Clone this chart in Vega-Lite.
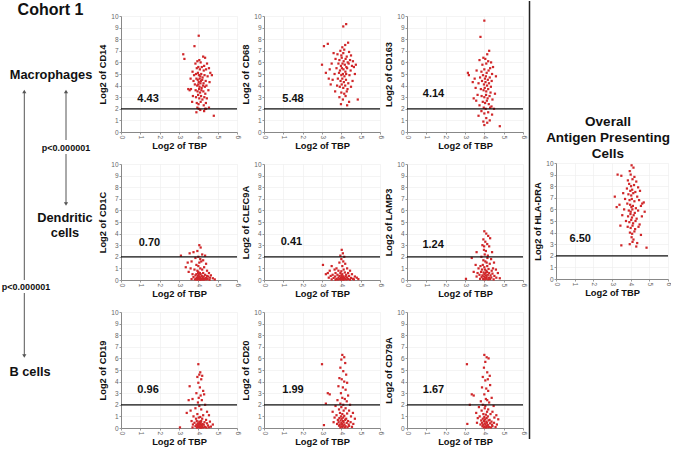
{
"$schema":"https://vega.github.io/schema/vega-lite/v6.json",
"background":"white",
"padding":{"left":0,"top":0,"right":0,"bottom":0},
"autosize":{"type":"pad"},
"config":{
 "view":{"stroke":null},
 "font":"Liberation Sans",
 "axis":{"grid":true,"gridColor":"#ececec","gridWidth":0.6,"domainColor":"#888","domainWidth":1,"tickColor":"#999","tickSize":2,"labelFontSize":6.5,"labelColor":"#666","labelPadding":1,"labelFlush":false,"labelOverlap":false,"titleFontSize":9.3,"titleFontWeight":"bold","titleColor":"#111","titlePadding":3},
 "axisX":{"labelAngle":90}
},
"datasets":{
"stats":[{"g":"CD14","r":4.43},{"g":"CD68","r":5.48},{"g":"CD163","r":4.14},{"g":"CD1C","r":0.70},{"g":"CLEC9A","r":0.41},{"g":"LAMP3","r":1.24},{"g":"HLA-DRA","r":6.50},{"g":"CD19","r":0.96},{"g":"CD20","r":1.99},{"g":"CD79A","r":1.67}],
"pts":[
{"g":"CD14","x":4.02,"y":8.3},{"g":"CD14","x":3.80,"y":7.4},{"g":"CD14","x":3.22,"y":6.7},{"g":"CD14","x":3.28,"y":6.3},{"g":"CD14","x":3.95,"y":6.1},{"g":"CD14","x":4.05,"y":6.2},{"g":"CD14","x":4.12,"y":6.0},{"g":"CD14","x":4.25,"y":6.5},{"g":"CD14","x":4.35,"y":6.4},{"g":"CD14","x":4.30,"y":5.7},{"g":"CD14","x":4.45,"y":5.9},{"g":"CD14","x":3.85,"y":5.9},{"g":"CD14","x":3.92,"y":5.5},{"g":"CD14","x":4.00,"y":5.6},{"g":"CD14","x":4.08,"y":5.4},{"g":"CD14","x":4.18,"y":5.6},{"g":"CD14","x":4.28,"y":5.3},{"g":"CD14","x":4.40,"y":5.4},{"g":"CD14","x":4.55,"y":5.5},{"g":"CD14","x":4.62,"y":5.1},{"g":"CD14","x":3.70,"y":5.2},{"g":"CD14","x":3.78,"y":4.9},{"g":"CD14","x":3.88,"y":5.0},{"g":"CD14","x":3.98,"y":5.1},{"g":"CD14","x":4.03,"y":4.9},{"g":"CD14","x":4.10,"y":4.8},{"g":"CD14","x":4.15,"y":5.0},{"g":"CD14","x":4.22,"y":4.7},{"g":"CD14","x":4.32,"y":4.9},{"g":"CD14","x":4.48,"y":4.8},{"g":"CD14","x":3.60,"y":4.6},{"g":"CD14","x":3.75,"y":4.4},{"g":"CD14","x":3.90,"y":4.6},{"g":"CD14","x":3.97,"y":4.5},{"g":"CD14","x":4.02,"y":4.3},{"g":"CD14","x":4.07,"y":4.6},{"g":"CD14","x":4.13,"y":4.4},{"g":"CD14","x":4.20,"y":4.5},{"g":"CD14","x":4.27,"y":4.2},{"g":"CD14","x":4.38,"y":4.4},{"g":"CD14","x":4.58,"y":4.3},{"g":"CD14","x":3.82,"y":4.1},{"g":"CD14","x":3.94,"y":4.0},{"g":"CD14","x":4.00,"y":4.1},{"g":"CD14","x":4.06,"y":3.9},{"g":"CD14","x":4.11,"y":4.2},{"g":"CD14","x":4.17,"y":3.8},{"g":"CD14","x":4.24,"y":4.0},{"g":"CD14","x":4.34,"y":3.9},{"g":"CD14","x":4.42,"y":4.0},{"g":"CD14","x":3.48,"y":3.7},{"g":"CD14","x":3.55,"y":3.6},{"g":"CD14","x":3.86,"y":3.6},{"g":"CD14","x":3.96,"y":3.5},{"g":"CD14","x":4.04,"y":3.7},{"g":"CD14","x":4.09,"y":3.4},{"g":"CD14","x":4.16,"y":3.6},{"g":"CD14","x":4.26,"y":3.5},{"g":"CD14","x":4.36,"y":3.3},{"g":"CD14","x":4.52,"y":3.6},{"g":"CD14","x":3.72,"y":3.1},{"g":"CD14","x":3.88,"y":3.0},{"g":"CD14","x":3.99,"y":3.2},{"g":"CD14","x":4.05,"y":2.9},{"g":"CD14","x":4.14,"y":3.1},{"g":"CD14","x":4.21,"y":2.8},{"g":"CD14","x":4.31,"y":3.0},{"g":"CD14","x":4.44,"y":2.9},{"g":"CD14","x":3.68,"y":2.6},{"g":"CD14","x":3.92,"y":2.5},{"g":"CD14","x":4.01,"y":2.4},{"g":"CD14","x":4.12,"y":2.6},{"g":"CD14","x":4.28,"y":2.3},{"g":"CD14","x":4.39,"y":2.5},{"g":"CD14","x":3.95,"y":2.1},{"g":"CD14","x":4.02,"y":2.0},{"g":"CD14","x":4.35,"y":2.0},{"g":"CD14","x":4.40,"y":2.0},{"g":"CD14","x":4.55,"y":2.1},{"g":"CD14","x":3.90,"y":1.7},{"g":"CD14","x":4.30,"y":1.8},{"g":"CD14","x":4.80,"y":1.4},{"g":"CD14","x":4.10,"y":1.9},{"g":"CD14","x":3.62,"y":3.7},{"g":"CD14","x":4.70,"y":4.9},
{"g":"CD68","x":4.25,"y":9.3},{"g":"CD68","x":4.10,"y":9.1},{"g":"CD68","x":3.30,"y":7.6},{"g":"CD68","x":3.10,"y":7.4},{"g":"CD68","x":4.05,"y":7.3},{"g":"CD68","x":4.20,"y":7.5},{"g":"CD68","x":4.35,"y":7.7},{"g":"CD68","x":3.95,"y":7.0},{"g":"CD68","x":4.15,"y":7.1},{"g":"CD68","x":4.40,"y":6.9},{"g":"CD68","x":3.60,"y":6.8},{"g":"CD68","x":3.80,"y":6.7},{"g":"CD68","x":4.00,"y":6.6},{"g":"CD68","x":4.10,"y":6.8},{"g":"CD68","x":4.28,"y":6.5},{"g":"CD68","x":4.50,"y":6.6},{"g":"CD68","x":3.70,"y":6.3},{"g":"CD68","x":3.90,"y":6.2},{"g":"CD68","x":4.02,"y":6.4},{"g":"CD68","x":4.12,"y":6.1},{"g":"CD68","x":4.22,"y":6.3},{"g":"CD68","x":4.33,"y":6.0},{"g":"CD68","x":4.45,"y":6.2},{"g":"CD68","x":4.60,"y":6.1},{"g":"CD68","x":3.00,"y":5.8},{"g":"CD68","x":3.50,"y":5.9},{"g":"CD68","x":3.85,"y":5.9},{"g":"CD68","x":3.98,"y":5.7},{"g":"CD68","x":4.06,"y":5.9},{"g":"CD68","x":4.18,"y":5.8},{"g":"CD68","x":4.26,"y":5.6},{"g":"CD68","x":4.38,"y":5.9},{"g":"CD68","x":4.55,"y":5.7},{"g":"CD68","x":4.75,"y":5.8},{"g":"CD68","x":3.40,"y":5.4},{"g":"CD68","x":3.75,"y":5.5},{"g":"CD68","x":3.93,"y":5.3},{"g":"CD68","x":4.03,"y":5.5},{"g":"CD68","x":4.11,"y":5.4},{"g":"CD68","x":4.21,"y":5.2},{"g":"CD68","x":4.30,"y":5.5},{"g":"CD68","x":4.48,"y":5.3},{"g":"CD68","x":4.65,"y":5.6},{"g":"CD68","x":3.20,"y":5.1},{"g":"CD68","x":3.65,"y":5.0},{"g":"CD68","x":3.88,"y":5.1},{"g":"CD68","x":4.00,"y":4.9},{"g":"CD68","x":4.08,"y":5.0},{"g":"CD68","x":4.16,"y":4.8},{"g":"CD68","x":4.25,"y":5.0},{"g":"CD68","x":4.42,"y":4.9},{"g":"CD68","x":3.55,"y":4.5},{"g":"CD68","x":3.82,"y":4.6},{"g":"CD68","x":3.96,"y":4.4},{"g":"CD68","x":4.05,"y":4.6},{"g":"CD68","x":4.13,"y":4.3},{"g":"CD68","x":4.24,"y":4.5},{"g":"CD68","x":4.36,"y":4.2},{"g":"CD68","x":4.58,"y":4.4},{"g":"CD68","x":3.45,"y":4.1},{"g":"CD68","x":3.78,"y":4.0},{"g":"CD68","x":3.92,"y":3.9},{"g":"CD68","x":4.02,"y":4.1},{"g":"CD68","x":4.10,"y":3.8},{"g":"CD68","x":4.20,"y":4.0},{"g":"CD68","x":4.32,"y":3.7},{"g":"CD68","x":4.50,"y":3.9},{"g":"CD68","x":3.68,"y":3.5},{"g":"CD68","x":4.00,"y":3.4},{"g":"CD68","x":4.15,"y":3.3},{"g":"CD68","x":4.28,"y":3.5},{"g":"CD68","x":3.90,"y":3.0},{"g":"CD68","x":4.08,"y":2.8},{"g":"CD68","x":4.22,"y":3.1},{"g":"CD68","x":4.40,"y":2.6},{"g":"CD68","x":3.98,"y":2.4},{"g":"CD68","x":4.30,"y":2.3},{"g":"CD68","x":4.85,"y":2.8},{"g":"CD68","x":3.35,"y":4.6},{"g":"CD68","x":4.70,"y":5.0},
{"g":"CD163","x":4.00,"y":9.6},{"g":"CD163","x":3.80,"y":8.2},{"g":"CD163","x":4.25,"y":7.0},{"g":"CD163","x":4.15,"y":6.7},{"g":"CD163","x":3.95,"y":6.4},{"g":"CD163","x":4.05,"y":6.3},{"g":"CD163","x":3.75,"y":6.2},{"g":"CD163","x":4.20,"y":6.1},{"g":"CD163","x":4.35,"y":6.0},{"g":"CD163","x":3.90,"y":5.8},{"g":"CD163","x":4.10,"y":5.9},{"g":"CD163","x":4.30,"y":5.5},{"g":"CD163","x":4.45,"y":5.6},{"g":"CD163","x":3.15,"y":5.1},{"g":"CD163","x":3.20,"y":4.9},{"g":"CD163","x":3.60,"y":5.3},{"g":"CD163","x":3.85,"y":5.2},{"g":"CD163","x":4.00,"y":5.4},{"g":"CD163","x":4.12,"y":5.1},{"g":"CD163","x":4.22,"y":5.3},{"g":"CD163","x":4.40,"y":5.0},{"g":"CD163","x":4.60,"y":4.8},{"g":"CD163","x":3.50,"y":4.6},{"g":"CD163","x":3.78,"y":4.7},{"g":"CD163","x":3.93,"y":4.9},{"g":"CD163","x":4.03,"y":4.6},{"g":"CD163","x":4.08,"y":4.8},{"g":"CD163","x":4.18,"y":4.5},{"g":"CD163","x":4.28,"y":4.7},{"g":"CD163","x":4.38,"y":4.4},{"g":"CD163","x":3.40,"y":4.3},{"g":"CD163","x":3.70,"y":4.2},{"g":"CD163","x":3.88,"y":4.4},{"g":"CD163","x":3.98,"y":4.1},{"g":"CD163","x":4.06,"y":4.3},{"g":"CD163","x":4.14,"y":4.0},{"g":"CD163","x":4.24,"y":4.2},{"g":"CD163","x":4.34,"y":3.9},{"g":"CD163","x":3.55,"y":3.8},{"g":"CD163","x":3.82,"y":3.7},{"g":"CD163","x":3.96,"y":3.6},{"g":"CD163","x":4.02,"y":3.8},{"g":"CD163","x":4.10,"y":3.5},{"g":"CD163","x":4.20,"y":3.7},{"g":"CD163","x":4.32,"y":3.4},{"g":"CD163","x":3.65,"y":3.2},{"g":"CD163","x":3.86,"y":3.1},{"g":"CD163","x":4.00,"y":3.0},{"g":"CD163","x":4.09,"y":3.2},{"g":"CD163","x":4.17,"y":2.9},{"g":"CD163","x":4.27,"y":3.1},{"g":"CD163","x":4.42,"y":2.8},{"g":"CD163","x":3.58,"y":2.7},{"g":"CD163","x":3.92,"y":2.6},{"g":"CD163","x":4.04,"y":2.5},{"g":"CD163","x":4.13,"y":2.7},{"g":"CD163","x":4.23,"y":2.4},{"g":"CD163","x":4.37,"y":2.2},{"g":"CD163","x":3.75,"y":2.3},{"g":"CD163","x":3.97,"y":2.1},{"g":"CD163","x":4.07,"y":2.0},{"g":"CD163","x":4.30,"y":2.1},{"g":"CD163","x":4.50,"y":2.0},{"g":"CD163","x":3.85,"y":1.8},{"g":"CD163","x":4.00,"y":1.6},{"g":"CD163","x":4.20,"y":1.7},{"g":"CD163","x":4.40,"y":1.5},{"g":"CD163","x":3.70,"y":1.4},{"g":"CD163","x":4.10,"y":1.2},{"g":"CD163","x":4.28,"y":1.0},{"g":"CD163","x":3.95,"y":0.9},{"g":"CD163","x":4.00,"y":0.6},{"g":"CD163","x":4.80,"y":0.5},{"g":"CD163","x":4.15,"y":0.8},{"g":"CD163","x":3.45,"y":2.9},{"g":"CD163","x":4.55,"y":3.3},
{"g":"CD1C","x":4.05,"y":3.0},{"g":"CD1C","x":4.12,"y":2.8},{"g":"CD1C","x":3.95,"y":2.5},{"g":"CD1C","x":3.55,"y":2.3},{"g":"CD1C","x":3.75,"y":2.4},{"g":"CD1C","x":3.10,"y":2.1},{"g":"CD1C","x":4.20,"y":2.2},{"g":"CD1C","x":4.00,"y":2.0},{"g":"CD1C","x":4.35,"y":2.1},{"g":"CD1C","x":3.85,"y":1.9},{"g":"CD1C","x":4.10,"y":1.8},{"g":"CD1C","x":4.25,"y":1.7},{"g":"CD1C","x":3.65,"y":1.6},{"g":"CD1C","x":3.45,"y":1.5},{"g":"CD1C","x":4.05,"y":1.5},{"g":"CD1C","x":4.15,"y":1.6},{"g":"CD1C","x":4.40,"y":1.4},{"g":"CD1C","x":3.90,"y":1.3},{"g":"CD1C","x":4.00,"y":1.2},{"g":"CD1C","x":3.35,"y":1.1},{"g":"CD1C","x":3.60,"y":1.0},{"g":"CD1C","x":4.30,"y":1.1},{"g":"CD1C","x":4.10,"y":1.0},{"g":"CD1C","x":3.80,"y":0.9},{"g":"CD1C","x":3.95,"y":0.8},{"g":"CD1C","x":4.20,"y":0.9},{"g":"CD1C","x":4.45,"y":0.8},{"g":"CD1C","x":3.50,"y":0.7},{"g":"CD1C","x":4.00,"y":0.7},{"g":"CD1C","x":4.08,"y":0.6},{"g":"CD1C","x":4.25,"y":0.6},{"g":"CD1C","x":4.55,"y":0.6},{"g":"CD1C","x":3.70,"y":0.5},{"g":"CD1C","x":3.90,"y":0.5},{"g":"CD1C","x":4.02,"y":0.45},{"g":"CD1C","x":4.12,"y":0.5},{"g":"CD1C","x":4.35,"y":0.45},{"g":"CD1C","x":4.65,"y":0.4},{"g":"CD1C","x":3.85,"y":0.4},{"g":"CD1C","x":3.98,"y":0.35},{"g":"CD1C","x":4.06,"y":0.3},{"g":"CD1C","x":4.18,"y":0.35},{"g":"CD1C","x":4.28,"y":0.3},{"g":"CD1C","x":4.50,"y":0.3},{"g":"CD1C","x":3.75,"y":0.25},{"g":"CD1C","x":3.93,"y":0.2},{"g":"CD1C","x":4.00,"y":0.2},{"g":"CD1C","x":4.10,"y":0.22},{"g":"CD1C","x":4.22,"y":0.2},{"g":"CD1C","x":4.40,"y":0.18},{"g":"CD1C","x":4.60,"y":0.2},{"g":"CD1C","x":3.88,"y":0.12},{"g":"CD1C","x":3.96,"y":0.1},{"g":"CD1C","x":4.04,"y":0.12},{"g":"CD1C","x":4.14,"y":0.1},{"g":"CD1C","x":4.26,"y":0.12},{"g":"CD1C","x":4.34,"y":0.1},{"g":"CD1C","x":4.48,"y":0.1},{"g":"CD1C","x":4.75,"y":0.15},{"g":"CD1C","x":3.82,"y":0.05},{"g":"CD1C","x":3.92,"y":0.03},{"g":"CD1C","x":4.02,"y":0.05},{"g":"CD1C","x":4.08,"y":0.02},{"g":"CD1C","x":4.20,"y":0.04},{"g":"CD1C","x":4.30,"y":0.03},{"g":"CD1C","x":4.42,"y":0.05},{"g":"CD1C","x":4.58,"y":0.02},{"g":"CD1C","x":4.85,"y":0.05},{"g":"CD1C","x":3.65,"y":0.08},{"g":"CD1C","x":4.16,"y":0.06},{"g":"CD1C","x":3.99,"y":0.6},{"g":"CD1C","x":4.45,"y":0.35},
{"g":"CLEC9A","x":4.02,"y":2.6},{"g":"CLEC9A","x":4.08,"y":2.3},{"g":"CLEC9A","x":3.95,"y":2.1},{"g":"CLEC9A","x":4.15,"y":2.0},{"g":"CLEC9A","x":4.00,"y":1.8},{"g":"CLEC9A","x":4.10,"y":1.6},{"g":"CLEC9A","x":3.90,"y":1.5},{"g":"CLEC9A","x":4.20,"y":1.4},{"g":"CLEC9A","x":3.05,"y":1.3},{"g":"CLEC9A","x":3.50,"y":1.2},{"g":"CLEC9A","x":4.05,"y":1.2},{"g":"CLEC9A","x":3.75,"y":1.0},{"g":"CLEC9A","x":4.30,"y":1.0},{"g":"CLEC9A","x":3.65,"y":0.9},{"g":"CLEC9A","x":4.12,"y":0.9},{"g":"CLEC9A","x":3.40,"y":0.8},{"g":"CLEC9A","x":3.85,"y":0.8},{"g":"CLEC9A","x":4.00,"y":0.75},{"g":"CLEC9A","x":4.45,"y":0.8},{"g":"CLEC9A","x":3.30,"y":0.6},{"g":"CLEC9A","x":3.70,"y":0.6},{"g":"CLEC9A","x":3.95,"y":0.6},{"g":"CLEC9A","x":4.18,"y":0.65},{"g":"CLEC9A","x":4.35,"y":0.6},{"g":"CLEC9A","x":3.20,"y":0.5},{"g":"CLEC9A","x":3.55,"y":0.45},{"g":"CLEC9A","x":3.80,"y":0.45},{"g":"CLEC9A","x":4.05,"y":0.5},{"g":"CLEC9A","x":4.25,"y":0.45},{"g":"CLEC9A","x":4.55,"y":0.5},{"g":"CLEC9A","x":3.45,"y":0.35},{"g":"CLEC9A","x":3.68,"y":0.3},{"g":"CLEC9A","x":3.90,"y":0.35},{"g":"CLEC9A","x":4.02,"y":0.3},{"g":"CLEC9A","x":4.10,"y":0.32},{"g":"CLEC9A","x":4.22,"y":0.3},{"g":"CLEC9A","x":4.40,"y":0.35},{"g":"CLEC9A","x":4.70,"y":0.3},{"g":"CLEC9A","x":3.35,"y":0.2},{"g":"CLEC9A","x":3.60,"y":0.18},{"g":"CLEC9A","x":3.85,"y":0.2},{"g":"CLEC9A","x":3.98,"y":0.2},{"g":"CLEC9A","x":4.06,"y":0.18},{"g":"CLEC9A","x":4.15,"y":0.2},{"g":"CLEC9A","x":4.30,"y":0.22},{"g":"CLEC9A","x":4.50,"y":0.18},{"g":"CLEC9A","x":4.80,"y":0.2},{"g":"CLEC9A","x":3.75,"y":0.1},{"g":"CLEC9A","x":3.93,"y":0.1},{"g":"CLEC9A","x":4.00,"y":0.08},{"g":"CLEC9A","x":4.08,"y":0.12},{"g":"CLEC9A","x":4.20,"y":0.1},{"g":"CLEC9A","x":4.35,"y":0.08},{"g":"CLEC9A","x":4.60,"y":0.1},{"g":"CLEC9A","x":4.88,"y":0.08},{"g":"CLEC9A","x":3.50,"y":0.05},{"g":"CLEC9A","x":3.82,"y":0.04},{"g":"CLEC9A","x":3.96,"y":0.03},{"g":"CLEC9A","x":4.04,"y":0.05},{"g":"CLEC9A","x":4.12,"y":0.02},{"g":"CLEC9A","x":4.26,"y":0.04},{"g":"CLEC9A","x":4.45,"y":0.03},{"g":"CLEC9A","x":4.65,"y":0.05},{"g":"CLEC9A","x":3.70,"y":0.02},{"g":"CLEC9A","x":4.00,"y":0.4},
{"g":"LAMP3","x":4.00,"y":4.2},{"g":"LAMP3","x":4.10,"y":4.0},{"g":"LAMP3","x":4.20,"y":3.8},{"g":"LAMP3","x":3.95,"y":3.5},{"g":"LAMP3","x":4.05,"y":3.3},{"g":"LAMP3","x":4.15,"y":3.1},{"g":"LAMP3","x":4.30,"y":3.6},{"g":"LAMP3","x":3.90,"y":3.0},{"g":"LAMP3","x":4.25,"y":2.9},{"g":"LAMP3","x":3.60,"y":2.4},{"g":"LAMP3","x":3.98,"y":2.6},{"g":"LAMP3","x":4.08,"y":2.5},{"g":"LAMP3","x":4.40,"y":2.4},{"g":"LAMP3","x":4.02,"y":2.2},{"g":"LAMP3","x":4.18,"y":2.1},{"g":"LAMP3","x":3.85,"y":2.0},{"g":"LAMP3","x":3.35,"y":1.9},{"g":"LAMP3","x":4.35,"y":1.8},{"g":"LAMP3","x":3.95,"y":1.7},{"g":"LAMP3","x":4.05,"y":1.6},{"g":"LAMP3","x":4.12,"y":1.5},{"g":"LAMP3","x":4.28,"y":1.4},{"g":"LAMP3","x":4.50,"y":1.5},{"g":"LAMP3","x":3.55,"y":1.3},{"g":"LAMP3","x":3.80,"y":1.2},{"g":"LAMP3","x":3.92,"y":1.3},{"g":"LAMP3","x":4.00,"y":1.1},{"g":"LAMP3","x":4.15,"y":1.2},{"g":"LAMP3","x":4.45,"y":1.0},{"g":"LAMP3","x":3.70,"y":1.0},{"g":"LAMP3","x":3.88,"y":0.9},{"g":"LAMP3","x":4.03,"y":0.9},{"g":"LAMP3","x":4.10,"y":0.8},{"g":"LAMP3","x":4.22,"y":0.95},{"g":"LAMP3","x":4.38,"y":0.8},{"g":"LAMP3","x":4.60,"y":0.9},{"g":"LAMP3","x":3.45,"y":0.7},{"g":"LAMP3","x":3.65,"y":0.6},{"g":"LAMP3","x":3.83,"y":0.7},{"g":"LAMP3","x":3.96,"y":0.65},{"g":"LAMP3","x":4.06,"y":0.6},{"g":"LAMP3","x":4.14,"y":0.7},{"g":"LAMP3","x":4.25,"y":0.6},{"g":"LAMP3","x":4.42,"y":0.55},{"g":"LAMP3","x":4.70,"y":0.6},{"g":"LAMP3","x":3.75,"y":0.45},{"g":"LAMP3","x":3.90,"y":0.4},{"g":"LAMP3","x":4.00,"y":0.5},{"g":"LAMP3","x":4.08,"y":0.4},{"g":"LAMP3","x":4.18,"y":0.45},{"g":"LAMP3","x":4.32,"y":0.4},{"g":"LAMP3","x":4.52,"y":0.35},{"g":"LAMP3","x":3.60,"y":0.3},{"g":"LAMP3","x":3.86,"y":0.25},{"g":"LAMP3","x":3.98,"y":0.3},{"g":"LAMP3","x":4.04,"y":0.2},{"g":"LAMP3","x":4.12,"y":0.25},{"g":"LAMP3","x":4.24,"y":0.2},{"g":"LAMP3","x":4.36,"y":0.22},{"g":"LAMP3","x":4.62,"y":0.2},{"g":"LAMP3","x":3.05,"y":0.1},{"g":"LAMP3","x":3.78,"y":0.1},{"g":"LAMP3","x":3.94,"y":0.08},{"g":"LAMP3","x":4.02,"y":0.05},{"g":"LAMP3","x":4.10,"y":0.1},{"g":"LAMP3","x":4.20,"y":0.06},{"g":"LAMP3","x":4.30,"y":0.08},{"g":"LAMP3","x":4.48,"y":0.05},{"g":"LAMP3","x":4.80,"y":0.15},{"g":"LAMP3","x":4.16,"y":1.9},{"g":"LAMP3","x":3.99,"y":2.9},
{"g":"HLA-DRA","x":4.05,"y":9.8},{"g":"HLA-DRA","x":4.15,"y":9.6},{"g":"HLA-DRA","x":3.95,"y":9.3},{"g":"HLA-DRA","x":3.30,"y":9.0},{"g":"HLA-DRA","x":3.50,"y":8.9},{"g":"HLA-DRA","x":4.00,"y":9.0},{"g":"HLA-DRA","x":4.20,"y":8.8},{"g":"HLA-DRA","x":3.85,"y":8.5},{"g":"HLA-DRA","x":4.10,"y":8.6},{"g":"HLA-DRA","x":4.30,"y":8.4},{"g":"HLA-DRA","x":3.92,"y":8.2},{"g":"HLA-DRA","x":4.02,"y":8.0},{"g":"HLA-DRA","x":4.18,"y":8.1},{"g":"HLA-DRA","x":4.40,"y":7.9},{"g":"HLA-DRA","x":3.80,"y":7.8},{"g":"HLA-DRA","x":3.98,"y":7.6},{"g":"HLA-DRA","x":4.08,"y":7.7},{"g":"HLA-DRA","x":4.25,"y":7.5},{"g":"HLA-DRA","x":4.50,"y":7.6},{"g":"HLA-DRA","x":3.60,"y":7.4},{"g":"HLA-DRA","x":3.88,"y":7.3},{"g":"HLA-DRA","x":4.03,"y":7.2},{"g":"HLA-DRA","x":4.14,"y":7.4},{"g":"HLA-DRA","x":4.35,"y":7.1},{"g":"HLA-DRA","x":3.15,"y":7.1},{"g":"HLA-DRA","x":3.70,"y":6.9},{"g":"HLA-DRA","x":3.94,"y":6.8},{"g":"HLA-DRA","x":4.06,"y":6.9},{"g":"HLA-DRA","x":4.20,"y":6.7},{"g":"HLA-DRA","x":4.45,"y":6.8},{"g":"HLA-DRA","x":4.70,"y":6.6},{"g":"HLA-DRA","x":3.40,"y":6.4},{"g":"HLA-DRA","x":3.82,"y":6.5},{"g":"HLA-DRA","x":3.97,"y":6.4},{"g":"HLA-DRA","x":4.04,"y":6.2},{"g":"HLA-DRA","x":4.12,"y":6.3},{"g":"HLA-DRA","x":4.28,"y":6.1},{"g":"HLA-DRA","x":4.55,"y":6.3},{"g":"HLA-DRA","x":3.25,"y":6.2},{"g":"HLA-DRA","x":3.65,"y":6.0},{"g":"HLA-DRA","x":3.90,"y":5.9},{"g":"HLA-DRA","x":4.00,"y":5.8},{"g":"HLA-DRA","x":4.09,"y":6.0},{"g":"HLA-DRA","x":4.22,"y":5.7},{"g":"HLA-DRA","x":4.40,"y":5.9},{"g":"HLA-DRA","x":4.75,"y":5.8},{"g":"HLA-DRA","x":3.55,"y":5.5},{"g":"HLA-DRA","x":3.86,"y":5.4},{"g":"HLA-DRA","x":3.99,"y":5.6},{"g":"HLA-DRA","x":4.07,"y":5.3},{"g":"HLA-DRA","x":4.16,"y":5.5},{"g":"HLA-DRA","x":4.32,"y":5.2},{"g":"HLA-DRA","x":4.60,"y":5.4},{"g":"HLA-DRA","x":3.75,"y":5.0},{"g":"HLA-DRA","x":3.93,"y":4.9},{"g":"HLA-DRA","x":4.03,"y":5.1},{"g":"HLA-DRA","x":4.13,"y":4.8},{"g":"HLA-DRA","x":4.26,"y":5.0},{"g":"HLA-DRA","x":4.48,"y":4.7},{"g":"HLA-DRA","x":3.45,"y":4.6},{"g":"HLA-DRA","x":3.84,"y":4.5},{"g":"HLA-DRA","x":4.00,"y":4.4},{"g":"HLA-DRA","x":4.10,"y":4.6},{"g":"HLA-DRA","x":4.24,"y":4.3},{"g":"HLA-DRA","x":4.42,"y":4.5},{"g":"HLA-DRA","x":3.96,"y":4.0},{"g":"HLA-DRA","x":4.08,"y":3.9},{"g":"HLA-DRA","x":4.20,"y":4.1},{"g":"HLA-DRA","x":4.55,"y":3.8},{"g":"HLA-DRA","x":4.05,"y":3.6},{"g":"HLA-DRA","x":4.15,"y":3.4},{"g":"HLA-DRA","x":3.50,"y":2.9},{"g":"HLA-DRA","x":3.95,"y":3.0},{"g":"HLA-DRA","x":4.30,"y":2.8},{"g":"HLA-DRA","x":4.35,"y":3.1},{"g":"HLA-DRA","x":4.85,"y":2.7},{"g":"HLA-DRA","x":4.10,"y":3.2},{"g":"HLA-DRA","x":4.62,"y":6.5},
{"g":"CD19","x":4.00,"y":5.5},{"g":"CD19","x":4.10,"y":4.8},{"g":"CD19","x":4.05,"y":4.6},{"g":"CD19","x":4.20,"y":4.5},{"g":"CD19","x":3.95,"y":4.4},{"g":"CD19","x":4.15,"y":4.2},{"g":"CD19","x":4.00,"y":3.9},{"g":"CD19","x":3.55,"y":3.6},{"g":"CD19","x":4.08,"y":3.5},{"g":"CD19","x":4.25,"y":3.2},{"g":"CD19","x":3.90,"y":3.0},{"g":"CD19","x":4.12,"y":2.8},{"g":"CD19","x":4.30,"y":2.9},{"g":"CD19","x":4.02,"y":2.6},{"g":"CD19","x":3.70,"y":2.5},{"g":"CD19","x":3.50,"y":2.4},{"g":"CD19","x":4.18,"y":2.4},{"g":"CD19","x":3.98,"y":2.2},{"g":"CD19","x":4.35,"y":2.0},{"g":"CD19","x":4.05,"y":1.9},{"g":"CD19","x":3.85,"y":1.7},{"g":"CD19","x":4.15,"y":1.6},{"g":"CD19","x":3.60,"y":1.5},{"g":"CD19","x":4.45,"y":1.4},{"g":"CD19","x":3.40,"y":1.3},{"g":"CD19","x":3.95,"y":1.2},{"g":"CD19","x":4.25,"y":1.1},{"g":"CD19","x":4.55,"y":1.1},{"g":"CD19","x":3.75,"y":1.0},{"g":"CD19","x":4.02,"y":0.9},{"g":"CD19","x":4.10,"y":0.95},{"g":"CD19","x":3.88,"y":0.8},{"g":"CD19","x":4.20,"y":0.8},{"g":"CD19","x":4.40,"y":0.7},{"g":"CD19","x":3.65,"y":0.6},{"g":"CD19","x":3.92,"y":0.6},{"g":"CD19","x":4.05,"y":0.55},{"g":"CD19","x":4.15,"y":0.6},{"g":"CD19","x":4.32,"y":0.5},{"g":"CD19","x":4.60,"y":0.55},{"g":"CD19","x":3.80,"y":0.45},{"g":"CD19","x":3.97,"y":0.4},{"g":"CD19","x":4.03,"y":0.38},{"g":"CD19","x":4.12,"y":0.42},{"g":"CD19","x":4.22,"y":0.35},{"g":"CD19","x":4.45,"y":0.4},{"g":"CD19","x":3.72,"y":0.3},{"g":"CD19","x":3.90,"y":0.28},{"g":"CD19","x":4.00,"y":0.25},{"g":"CD19","x":4.08,"y":0.3},{"g":"CD19","x":4.18,"y":0.25},{"g":"CD19","x":4.28,"y":0.28},{"g":"CD19","x":4.50,"y":0.22},{"g":"CD19","x":4.75,"y":0.3},{"g":"CD19","x":3.85,"y":0.15},{"g":"CD19","x":3.95,"y":0.12},{"g":"CD19","x":4.02,"y":0.1},{"g":"CD19","x":4.10,"y":0.15},{"g":"CD19","x":4.20,"y":0.12},{"g":"CD19","x":4.35,"y":0.1},{"g":"CD19","x":4.65,"y":0.12},{"g":"CD19","x":3.05,"y":0.05},{"g":"CD19","x":3.70,"y":0.05},{"g":"CD19","x":3.93,"y":0.03},{"g":"CD19","x":4.06,"y":0.04},{"g":"CD19","x":4.14,"y":0.02},{"g":"CD19","x":4.25,"y":0.05},{"g":"CD19","x":4.42,"y":0.03},{"g":"CD19","x":4.55,"y":0.06},{"g":"CD19","x":3.99,"y":0.2},{"g":"CD19","x":4.10,"y":0.5},
{"g":"CD20","x":4.05,"y":6.3},{"g":"CD20","x":4.15,"y":6.1},{"g":"CD20","x":4.00,"y":5.9},{"g":"CD20","x":3.00,"y":5.5},{"g":"CD20","x":4.20,"y":5.6},{"g":"CD20","x":3.95,"y":5.2},{"g":"CD20","x":4.10,"y":4.9},{"g":"CD20","x":4.25,"y":4.6},{"g":"CD20","x":3.90,"y":4.3},{"g":"CD20","x":4.02,"y":4.2},{"g":"CD20","x":4.15,"y":4.0},{"g":"CD20","x":4.30,"y":3.9},{"g":"CD20","x":3.85,"y":3.6},{"g":"CD20","x":4.08,"y":3.5},{"g":"CD20","x":4.22,"y":3.3},{"g":"CD20","x":3.30,"y":3.0},{"g":"CD20","x":3.40,"y":2.9},{"g":"CD20","x":3.98,"y":3.0},{"g":"CD20","x":4.35,"y":2.8},{"g":"CD20","x":4.05,"y":2.6},{"g":"CD20","x":4.18,"y":2.5},{"g":"CD20","x":3.80,"y":2.4},{"g":"CD20","x":4.28,"y":2.3},{"g":"CD20","x":3.20,"y":2.1},{"g":"CD20","x":3.95,"y":2.1},{"g":"CD20","x":4.10,"y":2.0},{"g":"CD20","x":4.45,"y":2.0},{"g":"CD20","x":3.70,"y":1.9},{"g":"CD20","x":4.00,"y":1.8},{"g":"CD20","x":4.22,"y":1.7},{"g":"CD20","x":3.88,"y":1.6},{"g":"CD20","x":4.12,"y":1.5},{"g":"CD20","x":4.40,"y":1.5},{"g":"CD20","x":3.55,"y":1.4},{"g":"CD20","x":3.93,"y":1.3},{"g":"CD20","x":4.05,"y":1.2},{"g":"CD20","x":4.30,"y":1.25},{"g":"CD20","x":4.60,"y":1.3},{"g":"CD20","x":3.75,"y":1.1},{"g":"CD20","x":3.98,"y":1.0},{"g":"CD20","x":4.15,"y":1.05},{"g":"CD20","x":4.50,"y":1.0},{"g":"CD20","x":3.65,"y":0.9},{"g":"CD20","x":3.90,"y":0.85},{"g":"CD20","x":4.02,"y":0.8},{"g":"CD20","x":4.10,"y":0.9},{"g":"CD20","x":4.25,"y":0.8},{"g":"CD20","x":4.70,"y":0.8},{"g":"CD20","x":3.82,"y":0.7},{"g":"CD20","x":3.96,"y":0.65},{"g":"CD20","x":4.08,"y":0.6},{"g":"CD20","x":4.20,"y":0.7},{"g":"CD20","x":4.35,"y":0.6},{"g":"CD20","x":3.60,"y":0.5},{"g":"CD20","x":3.86,"y":0.5},{"g":"CD20","x":4.00,"y":0.45},{"g":"CD20","x":4.12,"y":0.5},{"g":"CD20","x":4.28,"y":0.45},{"g":"CD20","x":4.48,"y":0.5},{"g":"CD20","x":3.78,"y":0.35},{"g":"CD20","x":3.92,"y":0.3},{"g":"CD20","x":4.04,"y":0.35},{"g":"CD20","x":4.16,"y":0.3},{"g":"CD20","x":4.38,"y":0.3},{"g":"CD20","x":4.62,"y":0.35},{"g":"CD20","x":3.10,"y":0.25},{"g":"CD20","x":3.88,"y":0.2},{"g":"CD20","x":4.00,"y":0.15},{"g":"CD20","x":4.10,"y":0.2},{"g":"CD20","x":4.22,"y":0.15},{"g":"CD20","x":4.40,"y":0.18},{"g":"CD20","x":3.95,"y":0.05},{"g":"CD20","x":4.06,"y":0.08},{"g":"CD20","x":4.18,"y":0.05},{"g":"CD20","x":4.32,"y":0.06},{"g":"CD20","x":4.55,"y":0.1},
{"g":"CD79A","x":4.00,"y":6.3},{"g":"CD79A","x":4.12,"y":6.1},{"g":"CD79A","x":4.22,"y":6.0},{"g":"CD79A","x":3.10,"y":5.5},{"g":"CD79A","x":4.05,"y":5.7},{"g":"CD79A","x":3.98,"y":5.2},{"g":"CD79A","x":4.15,"y":4.8},{"g":"CD79A","x":4.28,"y":4.5},{"g":"CD79A","x":3.92,"y":4.4},{"g":"CD79A","x":4.05,"y":4.1},{"g":"CD79A","x":4.18,"y":4.2},{"g":"CD79A","x":4.30,"y":3.7},{"g":"CD79A","x":3.88,"y":3.5},{"g":"CD79A","x":4.10,"y":3.4},{"g":"CD79A","x":4.20,"y":3.2},{"g":"CD79A","x":3.35,"y":2.9},{"g":"CD79A","x":3.45,"y":2.8},{"g":"CD79A","x":4.00,"y":2.9},{"g":"CD79A","x":4.38,"y":2.6},{"g":"CD79A","x":4.08,"y":2.5},{"g":"CD79A","x":4.15,"y":2.4},{"g":"CD79A","x":3.82,"y":2.3},{"g":"CD79A","x":4.25,"y":2.2},{"g":"CD79A","x":3.25,"y":2.0},{"g":"CD79A","x":3.92,"y":2.0},{"g":"CD79A","x":4.05,"y":1.9},{"g":"CD79A","x":4.48,"y":1.9},{"g":"CD79A","x":3.72,"y":1.8},{"g":"CD79A","x":4.02,"y":1.7},{"g":"CD79A","x":4.20,"y":1.6},{"g":"CD79A","x":3.86,"y":1.5},{"g":"CD79A","x":4.14,"y":1.4},{"g":"CD79A","x":4.42,"y":1.4},{"g":"CD79A","x":3.58,"y":1.3},{"g":"CD79A","x":3.95,"y":1.2},{"g":"CD79A","x":4.08,"y":1.15},{"g":"CD79A","x":4.32,"y":1.2},{"g":"CD79A","x":4.62,"y":1.1},{"g":"CD79A","x":3.76,"y":1.0},{"g":"CD79A","x":4.00,"y":0.95},{"g":"CD79A","x":4.18,"y":1.0},{"g":"CD79A","x":4.52,"y":0.9},{"g":"CD79A","x":3.66,"y":0.85},{"g":"CD79A","x":3.92,"y":0.8},{"g":"CD79A","x":4.04,"y":0.75},{"g":"CD79A","x":4.12,"y":0.85},{"g":"CD79A","x":4.27,"y":0.7},{"g":"CD79A","x":4.72,"y":0.75},{"g":"CD79A","x":3.84,"y":0.65},{"g":"CD79A","x":3.98,"y":0.6},{"g":"CD79A","x":4.10,"y":0.55},{"g":"CD79A","x":4.22,"y":0.65},{"g":"CD79A","x":4.37,"y":0.55},{"g":"CD79A","x":3.62,"y":0.45},{"g":"CD79A","x":3.88,"y":0.45},{"g":"CD79A","x":4.02,"y":0.4},{"g":"CD79A","x":4.14,"y":0.45},{"g":"CD79A","x":4.30,"y":0.4},{"g":"CD79A","x":4.50,"y":0.45},{"g":"CD79A","x":3.80,"y":0.3},{"g":"CD79A","x":3.94,"y":0.28},{"g":"CD79A","x":4.06,"y":0.3},{"g":"CD79A","x":4.18,"y":0.25},{"g":"CD79A","x":4.40,"y":0.28},{"g":"CD79A","x":4.65,"y":0.3},{"g":"CD79A","x":3.12,"y":0.35},{"g":"CD79A","x":3.90,"y":0.15},{"g":"CD79A","x":4.02,"y":0.12},{"g":"CD79A","x":4.12,"y":0.18},{"g":"CD79A","x":4.24,"y":0.1},{"g":"CD79A","x":4.42,"y":0.15},{"g":"CD79A","x":3.97,"y":0.05},{"g":"CD79A","x":4.08,"y":0.04},{"g":"CD79A","x":4.20,"y":0.06},{"g":"CD79A","x":4.34,"y":0.05},{"g":"CD79A","x":4.58,"y":0.08}
]},
"spacing":0,
"hconcat":[
{"width":98,"height":425,"data":{"values":[{}]},
 "layer":[
  {"mark":{"type":"text","text":"Cohort 1","fontSize":16,"fontWeight":"bold","align":"center","baseline":"alphabetic","color":"#111"},"encoding":{"x":{"datum":50.5,"type":"quantitative","scale":{"domain":[0,98],"nice":false,"zero":false},"axis":null},"y":{"datum":13.5,"type":"quantitative","scale":{"domain":[15,440],"reverse":true,"nice":false,"zero":false},"axis":null}}},
  {"mark":{"type":"text","text":"Macrophages","fontSize":12.8,"fontWeight":"bold","align":"center","baseline":"alphabetic","color":"#111"},"encoding":{"x":{"datum":51,"type":"quantitative","scale":{"domain":[0,98],"nice":false,"zero":false},"axis":null},"y":{"datum":77.5,"type":"quantitative","scale":{"domain":[15,440],"reverse":true,"nice":false,"zero":false},"axis":null}}},
  {"mark":{"type":"text","text":"Dendritic\ncells","lineBreak":"\n","lineHeight":15,"fontSize":12.8,"fontWeight":"bold","align":"center","baseline":"alphabetic","color":"#111"},"encoding":{"x":{"datum":65,"type":"quantitative","scale":{"domain":[0,98],"nice":false,"zero":false},"axis":null},"y":{"datum":221,"type":"quantitative","scale":{"domain":[15,440],"reverse":true,"nice":false,"zero":false},"axis":null}}},
  {"mark":{"type":"text","text":"B cells","fontSize":12.8,"fontWeight":"bold","align":"center","baseline":"alphabetic","color":"#111"},"encoding":{"x":{"datum":30,"type":"quantitative","scale":{"domain":[0,98],"nice":false,"zero":false},"axis":null},"y":{"datum":375,"type":"quantitative","scale":{"domain":[15,440],"reverse":true,"nice":false,"zero":false},"axis":null}}},
  {"mark":{"type":"text","text":"p<0.000001","fontSize":9,"fontWeight":"bold","align":"center","baseline":"alphabetic","color":"#111"},"encoding":{"x":{"datum":66,"type":"quantitative","scale":{"domain":[0,98],"nice":false,"zero":false},"axis":null},"y":{"datum":150,"type":"quantitative","scale":{"domain":[15,440],"reverse":true,"nice":false,"zero":false},"axis":null}}},
  {"mark":{"type":"text","text":"p<0.000001","fontSize":9,"fontWeight":"bold","align":"center","baseline":"alphabetic","color":"#111"},"encoding":{"x":{"datum":26,"type":"quantitative","scale":{"domain":[0,98],"nice":false,"zero":false},"axis":null},"y":{"datum":288.5,"type":"quantitative","scale":{"domain":[15,440],"reverse":true,"nice":false,"zero":false},"axis":null}}},
  {"mark":{"type":"rule","color":"#555","strokeWidth":1},"encoding":{"x":{"datum":24.3,"type":"quantitative","scale":{"domain":[0,98],"nice":false,"zero":false},"axis":null},"y":{"datum":90,"type":"quantitative","scale":{"domain":[15,440],"reverse":true,"nice":false,"zero":false},"axis":null},"y2":{"datum":279}}},
  {"mark":{"type":"rule","color":"#555","strokeWidth":1},"encoding":{"x":{"datum":24.3,"type":"quantitative","scale":{"domain":[0,98],"nice":false,"zero":false},"axis":null},"y":{"datum":292,"type":"quantitative","scale":{"domain":[15,440],"reverse":true,"nice":false,"zero":false},"axis":null},"y2":{"datum":355}}},
  {"mark":{"type":"rule","color":"#555","strokeWidth":1},"encoding":{"x":{"datum":66,"type":"quantitative","scale":{"domain":[0,98],"nice":false,"zero":false},"axis":null},"y":{"datum":90,"type":"quantitative","scale":{"domain":[15,440],"reverse":true,"nice":false,"zero":false},"axis":null},"y2":{"datum":139}}},
  {"mark":{"type":"rule","color":"#555","strokeWidth":1},"encoding":{"x":{"datum":66,"type":"quantitative","scale":{"domain":[0,98],"nice":false,"zero":false},"axis":null},"y":{"datum":153,"type":"quantitative","scale":{"domain":[15,440],"reverse":true,"nice":false,"zero":false},"axis":null},"y2":{"datum":203}}},
  {"mark":{"type":"point","shape":"triangle-up","filled":true,"size":18,"color":"#555","opacity":1},"encoding":{"x":{"datum":24.3,"type":"quantitative","scale":{"domain":[0,98],"nice":false,"zero":false},"axis":null},"y":{"datum":90.5,"type":"quantitative","scale":{"domain":[15,440],"reverse":true,"nice":false,"zero":false},"axis":null}}},
  {"mark":{"type":"point","shape":"triangle-up","filled":true,"size":18,"color":"#555","opacity":1},"encoding":{"x":{"datum":66,"type":"quantitative","scale":{"domain":[0,98],"nice":false,"zero":false},"axis":null},"y":{"datum":90.5,"type":"quantitative","scale":{"domain":[15,440],"reverse":true,"nice":false,"zero":false},"axis":null}}},
  {"mark":{"type":"point","shape":"triangle-down","filled":true,"size":18,"color":"#555","opacity":1},"encoding":{"x":{"datum":24.3,"type":"quantitative","scale":{"domain":[0,98],"nice":false,"zero":false},"axis":null},"y":{"datum":355,"type":"quantitative","scale":{"domain":[15,440],"reverse":true,"nice":false,"zero":false},"axis":null}}},
  {"mark":{"type":"point","shape":"triangle-down","filled":true,"size":18,"color":"#555","opacity":1},"encoding":{"x":{"datum":66,"type":"quantitative","scale":{"domain":[0,98],"nice":false,"zero":false},"axis":null},"y":{"datum":203,"type":"quantitative","scale":{"domain":[15,440],"reverse":true,"nice":false,"zero":false},"axis":null}}}
 ]},
{"spacing":10,"vconcat":[
 {"spacing":0,"hconcat":[
  {"width":116,"height":116,"layer":[
   {"data":{"name":"pts"},"transform":[{"filter":"datum.g==='CD14'"}],"mark":{"type":"square","size":5,"color":"#d0272a","opacity":1},"encoding":{"x":{"field":"x","type":"quantitative","scale":{"domain":[0,6],"nice":false,"zero":false},"axis":{"title":"Log2 of TBP","values":[0,1,2,3,4,5,6],"labelOverlap":false}},"y":{"field":"y","type":"quantitative","scale":{"domain":[0,10],"nice":false,"zero":false},"axis":{"title":"Log2 of CD14","values":[0,1,2,3,4,5,6,7,8,9,10],"labelOverlap":false}}}},
   {"data":{"name":"stats"},"transform":[{"filter":"datum.g==='CD14'"}],"mark":{"type":"rule","color":"#111","strokeWidth":1.2},"encoding":{"y":{"datum":2,"type":"quantitative","axis":{"title":"Log2 of CD14","values":[0,1,2,3,4,5,6,7,8,9,10],"labelOverlap":false}}}},
   {"data":{"name":"stats"},"transform":[{"filter":"datum.g==='CD14'"}],"mark":{"type":"text","fontSize":11,"fontWeight":"bold","align":"center","baseline":"alphabetic","color":"#111"},"encoding":{"x":{"datum":1.4,"type":"quantitative","axis":{"title":"Log2 of TBP","values":[0,1,2,3,4,5,6],"labelOverlap":false}},"y":{"datum":2.6,"type":"quantitative","axis":{"title":"Log2 of CD14","values":[0,1,2,3,4,5,6,7,8,9,10],"labelOverlap":false}},"text":{"field":"r","type":"quantitative","format":".2f"}}}
  ]},
  {"width":116,"height":116,"layer":[
   {"data":{"name":"pts"},"transform":[{"filter":"datum.g==='CD68'"}],"mark":{"type":"square","size":5,"color":"#d0272a","opacity":1},"encoding":{"x":{"field":"x","type":"quantitative","scale":{"domain":[0,6],"nice":false,"zero":false},"axis":{"title":"Log2 of TBP","values":[0,1,2,3,4,5,6],"labelOverlap":false}},"y":{"field":"y","type":"quantitative","scale":{"domain":[0,10],"nice":false,"zero":false},"axis":{"title":"Log2 of CD68","values":[0,1,2,3,4,5,6,7,8,9,10],"labelOverlap":false}}}},
   {"data":{"name":"stats"},"transform":[{"filter":"datum.g==='CD68'"}],"mark":{"type":"rule","color":"#111","strokeWidth":1.2},"encoding":{"y":{"datum":2,"type":"quantitative","axis":{"title":"Log2 of CD68","values":[0,1,2,3,4,5,6,7,8,9,10],"labelOverlap":false}}}},
   {"data":{"name":"stats"},"transform":[{"filter":"datum.g==='CD68'"}],"mark":{"type":"text","fontSize":11,"fontWeight":"bold","align":"center","baseline":"alphabetic","color":"#111"},"encoding":{"x":{"datum":1.5,"type":"quantitative","axis":{"title":"Log2 of TBP","values":[0,1,2,3,4,5,6],"labelOverlap":false}},"y":{"datum":2.6,"type":"quantitative","axis":{"title":"Log2 of CD68","values":[0,1,2,3,4,5,6,7,8,9,10],"labelOverlap":false}},"text":{"field":"r","type":"quantitative","format":".2f"}}}
  ]},
  {"width":116,"height":116,"layer":[
   {"data":{"name":"pts"},"transform":[{"filter":"datum.g==='CD163'"}],"mark":{"type":"square","size":5,"color":"#d0272a","opacity":1},"encoding":{"x":{"field":"x","type":"quantitative","scale":{"domain":[0,6],"nice":false,"zero":false},"axis":{"title":"Log2 of TBP","values":[0,1,2,3,4,5,6],"labelOverlap":false}},"y":{"field":"y","type":"quantitative","scale":{"domain":[0,10],"nice":false,"zero":false},"axis":{"title":"Log2 of CD163","values":[0,1,2,3,4,5,6,7,8,9,10],"labelOverlap":false}}}},
   {"data":{"name":"stats"},"transform":[{"filter":"datum.g==='CD163'"}],"mark":{"type":"rule","color":"#111","strokeWidth":1.2},"encoding":{"y":{"datum":2,"type":"quantitative","axis":{"title":"Log2 of CD163","values":[0,1,2,3,4,5,6,7,8,9,10],"labelOverlap":false}}}},
   {"data":{"name":"stats"},"transform":[{"filter":"datum.g==='CD163'"}],"mark":{"type":"text","fontSize":11,"fontWeight":"bold","align":"center","baseline":"alphabetic","color":"#111"},"encoding":{"x":{"datum":1.37,"type":"quantitative","axis":{"title":"Log2 of TBP","values":[0,1,2,3,4,5,6],"labelOverlap":false}},"y":{"datum":3.0,"type":"quantitative","axis":{"title":"Log2 of CD163","values":[0,1,2,3,4,5,6,7,8,9,10],"labelOverlap":false}},"text":{"field":"r","type":"quantitative","format":".2f"}}}
  ]}
 ]},
 {"spacing":0,"hconcat":[
  {"width":116,"height":116,"layer":[
   {"data":{"name":"pts"},"transform":[{"filter":"datum.g==='CD1C'"}],"mark":{"type":"square","size":5,"color":"#d0272a","opacity":1},"encoding":{"x":{"field":"x","type":"quantitative","scale":{"domain":[0,6],"nice":false,"zero":false},"axis":{"title":"Log2 of TBP","values":[0,1,2,3,4,5,6],"labelOverlap":false}},"y":{"field":"y","type":"quantitative","scale":{"domain":[0,10],"nice":false,"zero":false},"axis":{"title":"Log2 of CD1C","values":[0,1,2,3,4,5,6,7,8,9,10],"labelOverlap":false}}}},
   {"data":{"name":"stats"},"transform":[{"filter":"datum.g==='CD1C'"}],"mark":{"type":"rule","color":"#111","strokeWidth":1.2},"encoding":{"y":{"datum":2,"type":"quantitative","axis":{"title":"Log2 of CD1C","values":[0,1,2,3,4,5,6,7,8,9,10],"labelOverlap":false}}}},
   {"data":{"name":"stats"},"transform":[{"filter":"datum.g==='CD1C'"}],"mark":{"type":"text","fontSize":11,"fontWeight":"bold","align":"center","baseline":"alphabetic","color":"#111"},"encoding":{"x":{"datum":1.47,"type":"quantitative","axis":{"title":"Log2 of TBP","values":[0,1,2,3,4,5,6],"labelOverlap":false}},"y":{"datum":2.97,"type":"quantitative","axis":{"title":"Log2 of CD1C","values":[0,1,2,3,4,5,6,7,8,9,10],"labelOverlap":false}},"text":{"field":"r","type":"quantitative","format":".2f"}}}
  ]},
  {"width":116,"height":116,"layer":[
   {"data":{"name":"pts"},"transform":[{"filter":"datum.g==='CLEC9A'"}],"mark":{"type":"square","size":5,"color":"#d0272a","opacity":1},"encoding":{"x":{"field":"x","type":"quantitative","scale":{"domain":[0,6],"nice":false,"zero":false},"axis":{"title":"Log2 of TBP","values":[0,1,2,3,4,5,6],"labelOverlap":false}},"y":{"field":"y","type":"quantitative","scale":{"domain":[0,10],"nice":false,"zero":false},"axis":{"title":"Log2 of CLEC9A","values":[0,1,2,3,4,5,6,7,8,9,10],"labelOverlap":false}}}},
   {"data":{"name":"stats"},"transform":[{"filter":"datum.g==='CLEC9A'"}],"mark":{"type":"rule","color":"#111","strokeWidth":1.2},"encoding":{"y":{"datum":2,"type":"quantitative","axis":{"title":"Log2 of CLEC9A","values":[0,1,2,3,4,5,6,7,8,9,10],"labelOverlap":false}}}},
   {"data":{"name":"stats"},"transform":[{"filter":"datum.g==='CLEC9A'"}],"mark":{"type":"text","fontSize":11,"fontWeight":"bold","align":"center","baseline":"alphabetic","color":"#111"},"encoding":{"x":{"datum":1.42,"type":"quantitative","axis":{"title":"Log2 of TBP","values":[0,1,2,3,4,5,6],"labelOverlap":false}},"y":{"datum":3.0,"type":"quantitative","axis":{"title":"Log2 of CLEC9A","values":[0,1,2,3,4,5,6,7,8,9,10],"labelOverlap":false}},"text":{"field":"r","type":"quantitative","format":".2f"}}}
  ]},
  {"width":116,"height":116,"layer":[
   {"data":{"name":"pts"},"transform":[{"filter":"datum.g==='LAMP3'"}],"mark":{"type":"square","size":5,"color":"#d0272a","opacity":1},"encoding":{"x":{"field":"x","type":"quantitative","scale":{"domain":[0,6],"nice":false,"zero":false},"axis":{"title":"Log2 of TBP","values":[0,1,2,3,4,5,6],"labelOverlap":false}},"y":{"field":"y","type":"quantitative","scale":{"domain":[0,10],"nice":false,"zero":false},"axis":{"title":"Log2 of LAMP3","values":[0,1,2,3,4,5,6,7,8,9,10],"labelOverlap":false}}}},
   {"data":{"name":"stats"},"transform":[{"filter":"datum.g==='LAMP3'"}],"mark":{"type":"rule","color":"#111","strokeWidth":1.2},"encoding":{"y":{"datum":2,"type":"quantitative","axis":{"title":"Log2 of LAMP3","values":[0,1,2,3,4,5,6,7,8,9,10],"labelOverlap":false}}}},
   {"data":{"name":"stats"},"transform":[{"filter":"datum.g==='LAMP3'"}],"mark":{"type":"text","fontSize":11,"fontWeight":"bold","align":"center","baseline":"alphabetic","color":"#111"},"encoding":{"x":{"datum":1.35,"type":"quantitative","axis":{"title":"Log2 of TBP","values":[0,1,2,3,4,5,6],"labelOverlap":false}},"y":{"datum":2.73,"type":"quantitative","axis":{"title":"Log2 of LAMP3","values":[0,1,2,3,4,5,6,7,8,9,10],"labelOverlap":false}},"text":{"field":"r","type":"quantitative","format":".2f"}}}
  ]}
 ]},
 {"spacing":0,"hconcat":[
  {"width":116,"height":116,"layer":[
   {"data":{"name":"pts"},"transform":[{"filter":"datum.g==='CD19'"}],"mark":{"type":"square","size":5,"color":"#d0272a","opacity":1},"encoding":{"x":{"field":"x","type":"quantitative","scale":{"domain":[0,6],"nice":false,"zero":false},"axis":{"title":"Log2 of TBP","values":[0,1,2,3,4,5,6],"labelOverlap":false}},"y":{"field":"y","type":"quantitative","scale":{"domain":[0,10],"nice":false,"zero":false},"axis":{"title":"Log2 of CD19","values":[0,1,2,3,4,5,6,7,8,9,10],"labelOverlap":false}}}},
   {"data":{"name":"stats"},"transform":[{"filter":"datum.g==='CD19'"}],"mark":{"type":"rule","color":"#111","strokeWidth":1.2},"encoding":{"y":{"datum":2,"type":"quantitative","axis":{"title":"Log2 of CD19","values":[0,1,2,3,4,5,6,7,8,9,10],"labelOverlap":false}}}},
   {"data":{"name":"stats"},"transform":[{"filter":"datum.g==='CD19'"}],"mark":{"type":"text","fontSize":11,"fontWeight":"bold","align":"center","baseline":"alphabetic","color":"#111"},"encoding":{"x":{"datum":1.4,"type":"quantitative","axis":{"title":"Log2 of TBP","values":[0,1,2,3,4,5,6],"labelOverlap":false}},"y":{"datum":3.0,"type":"quantitative","axis":{"title":"Log2 of CD19","values":[0,1,2,3,4,5,6,7,8,9,10],"labelOverlap":false}},"text":{"field":"r","type":"quantitative","format":".2f"}}}
  ]},
  {"width":116,"height":116,"layer":[
   {"data":{"name":"pts"},"transform":[{"filter":"datum.g==='CD20'"}],"mark":{"type":"square","size":5,"color":"#d0272a","opacity":1},"encoding":{"x":{"field":"x","type":"quantitative","scale":{"domain":[0,6],"nice":false,"zero":false},"axis":{"title":"Log2 of TBP","values":[0,1,2,3,4,5,6],"labelOverlap":false}},"y":{"field":"y","type":"quantitative","scale":{"domain":[0,10],"nice":false,"zero":false},"axis":{"title":"Log2 of CD20","values":[0,1,2,3,4,5,6,7,8,9,10],"labelOverlap":false}}}},
   {"data":{"name":"stats"},"transform":[{"filter":"datum.g==='CD20'"}],"mark":{"type":"rule","color":"#111","strokeWidth":1.2},"encoding":{"y":{"datum":2,"type":"quantitative","axis":{"title":"Log2 of CD20","values":[0,1,2,3,4,5,6,7,8,9,10],"labelOverlap":false}}}},
   {"data":{"name":"stats"},"transform":[{"filter":"datum.g==='CD20'"}],"mark":{"type":"text","fontSize":11,"fontWeight":"bold","align":"center","baseline":"alphabetic","color":"#111"},"encoding":{"x":{"datum":1.5,"type":"quantitative","axis":{"title":"Log2 of TBP","values":[0,1,2,3,4,5,6],"labelOverlap":false}},"y":{"datum":3.0,"type":"quantitative","axis":{"title":"Log2 of CD20","values":[0,1,2,3,4,5,6,7,8,9,10],"labelOverlap":false}},"text":{"field":"r","type":"quantitative","format":".2f"}}}
  ]},
  {"width":116,"height":116,"layer":[
   {"data":{"name":"pts"},"transform":[{"filter":"datum.g==='CD79A'"}],"mark":{"type":"square","size":5,"color":"#d0272a","opacity":1},"encoding":{"x":{"field":"x","type":"quantitative","scale":{"domain":[0,6],"nice":false,"zero":false},"axis":{"title":"Log2 of TBP","values":[0,1,2,3,4,5,6],"labelOverlap":false}},"y":{"field":"y","type":"quantitative","scale":{"domain":[0,10],"nice":false,"zero":false},"axis":{"title":"Log2 of CD79A","values":[0,1,2,3,4,5,6,7,8,9,10],"labelOverlap":false}}}},
   {"data":{"name":"stats"},"transform":[{"filter":"datum.g==='CD79A'"}],"mark":{"type":"rule","color":"#111","strokeWidth":1.2},"encoding":{"y":{"datum":2,"type":"quantitative","axis":{"title":"Log2 of CD79A","values":[0,1,2,3,4,5,6,7,8,9,10],"labelOverlap":false}}}},
   {"data":{"name":"stats"},"transform":[{"filter":"datum.g==='CD79A'"}],"mark":{"type":"text","fontSize":11,"fontWeight":"bold","align":"center","baseline":"alphabetic","color":"#111"},"encoding":{"x":{"datum":1.37,"type":"quantitative","axis":{"title":"Log2 of TBP","values":[0,1,2,3,4,5,6],"labelOverlap":false}},"y":{"datum":3.0,"type":"quantitative","axis":{"title":"Log2 of CD79A","values":[0,1,2,3,4,5,6,7,8,9,10],"labelOverlap":false}},"text":{"field":"r","type":"quantitative","format":".2f"}}}
  ]}
 ]}
]},
{"width":7,"height":425,"data":{"values":[{}]},"mark":{"type":"rule","color":"#222","strokeWidth":1.5},"encoding":{"x":{"datum":0.5,"type":"quantitative","scale":{"domain":[0,1],"nice":false,"zero":false},"axis":null},"y":{"datum":0,"type":"quantitative","scale":{"domain":[15,440],"reverse":true,"nice":false,"zero":false},"axis":null},"y2":{"datum":438}}},
{"spacing":0,"vconcat":[
 {"width":112,"height":144,"data":{"values":[{}]},"mark":{"type":"text","text":"Overall\nAntigen Presenting\nCells","lineBreak":"\n","lineHeight":16,"fontSize":13.5,"fontWeight":"bold","align":"center","baseline":"middle","color":"#111"},"encoding":{"x":{"datum":608,"type":"quantitative","scale":{"domain":[556,668],"nice":false,"zero":false},"axis":null},"y":{"datum":120.5,"type":"quantitative","scale":{"domain":[15,159],"reverse":true,"nice":false,"zero":false},"axis":null}}},
 {"width":112,"height":116,"layer":[
   {"data":{"name":"pts"},"transform":[{"filter":"datum.g==='HLA-DRA'"}],"mark":{"type":"square","size":5,"color":"#d0272a","opacity":1},"encoding":{"x":{"field":"x","type":"quantitative","scale":{"domain":[0,6],"nice":false,"zero":false},"axis":{"title":"Log2 of TBP","values":[0,1,2,3,4,5,6],"labelOverlap":false}},"y":{"field":"y","type":"quantitative","scale":{"domain":[0,10],"nice":false,"zero":false},"axis":{"title":"Log2 of HLA-DRA","values":[0,1,2,3,4,5,6,7,8,9,10],"labelOverlap":false}}}},
   {"data":{"name":"stats"},"transform":[{"filter":"datum.g==='HLA-DRA'"}],"mark":{"type":"rule","color":"#111","strokeWidth":1.2},"encoding":{"y":{"datum":2,"type":"quantitative","axis":{"title":"Log2 of HLA-DRA","values":[0,1,2,3,4,5,6,7,8,9,10],"labelOverlap":false}}}},
   {"data":{"name":"stats"},"transform":[{"filter":"datum.g==='HLA-DRA'"}],"mark":{"type":"text","fontSize":11,"fontWeight":"bold","align":"center","baseline":"alphabetic","color":"#111"},"encoding":{"x":{"datum":1.3,"type":"quantitative","axis":{"title":"Log2 of TBP","values":[0,1,2,3,4,5,6],"labelOverlap":false}},"y":{"datum":3.16,"type":"quantitative","axis":{"title":"Log2 of HLA-DRA","values":[0,1,2,3,4,5,6,7,8,9,10],"labelOverlap":false}},"text":{"field":"r","type":"quantitative","format":".2f"}}}
 ]}
]}
]
}
